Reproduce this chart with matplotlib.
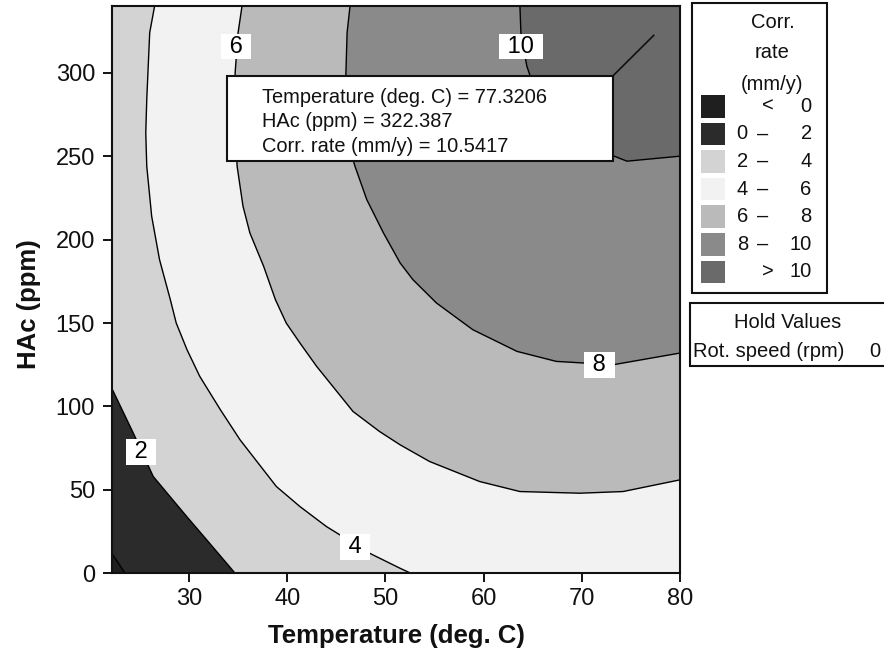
import matplotlib
matplotlib.use("Agg")
import matplotlib.pyplot as plt
from matplotlib.patches import Rectangle, Polygon

plt.rcParams['font.family'] = ['Liberation Sans', 'DejaVu Sans']

# ---------------- data ----------------
T_MIN, T_MAX = 22.13, 80.0
H_MIN, H_MAX = 0.0, 340.0
x_ticks = [30, 40, 50, 60, 70, 80]
y_ticks = [0, 50, 100, 150, 200, 250, 300]

levels = [0, 2, 4, 6, 8, 10]

c0_T = [22.13, 23.5]
c0_H = [12.0, 0.0]

c2_T = [22.13, 24.33, 26.36, 29.77, 32.1, 34.7]
c2_H = [111.0, 84.0, 58.0, 34.0, 18.0, 0.0]

c4_T = [26.5, 26.0, 25.7, 25.6, 25.7, 26.2, 27.0, 28.1, 28.7, 29.8, 31.1, 33.2,
        35.2, 38.9, 41.3, 44.0, 48.4, 51.5, 52.6]
c4_H = [340.0, 324.0, 284.0, 264.0, 244.0, 214.0, 188.0, 164.0, 150.0, 134.0, 118.0, 98.0,
        80.0, 52.0, 40.0, 28.0, 12.0, 3.0, 0.0]

c6_T = [35.4, 35.0, 34.7, 34.7, 34.9, 35.5, 36.2, 37.6, 38.8, 39.9, 41.3, 43.0,
        46.7, 49.4, 51.5, 54.5, 59.6, 63.7, 69.8, 74.2, 80.0]
c6_H = [340.0, 324.0, 300.0, 274.0, 244.0, 220.0, 204.0, 184.0, 164.0, 150.0, 138.0, 124.0,
        97.0, 85.0, 77.0, 67.0, 55.0, 49.0, 48.0, 49.0, 56.0]

c8_T = [46.4, 46.1, 45.9, 46.1, 46.9, 48.1, 49.8, 51.5, 52.8, 55.2, 58.9, 63.4,
        67.4, 73.2, 80.0]
c8_H = [340.0, 324.0, 284.0, 260.0, 244.0, 224.0, 204.0, 186.0, 176.0, 162.0, 146.0, 133.0,
        127.0, 125.0, 132.0]

c10_T = [63.7, 63.8, 64.4, 65.5, 67.5, 70.5, 73.3, 74.6, 80.0]
c10_H = [340.0, 324.0, 304.0, 285.0, 268.0, 256.0, 250.0, 247.0, 250.0]

contours = [(c0_T, c0_H), (c2_T, c2_H), (c4_T, c4_H),
            (c6_T, c6_H), (c8_T, c8_H), (c10_T, c10_H)]

band_labels = ["<   0", "0  \u2013   2", "2  \u2013   4", "4  \u2013   6",
               "6  \u2013   8", "8  \u2013  10", ">  10"]
band_colors = ["#1f1f1f", "#2b2b2b", "#d3d3d3", "#f2f2f2", "#bababa", "#8a8a8a", "#6a6a6a"]

# contour-line labels (level, T, HAc)
clabel_text = ["2", "4", "6", "8", "10"]
clabel_T = [25.1, 46.9, 34.8, 71.8, 63.8]
clabel_H = [72.8, 15.8, 315.7, 125.0, 315.7]

# crosshair point
pt_T, pt_H, pt_rate = 77.3206, 322.387, 10.5417

hold_name, hold_value = "Rot. speed (rpm)", "0"

# ---------------- figure ----------------
W, H = 884, 654
fig = plt.figure(figsize=(W / 100, H / 100), dpi=100)
ax_l, ax_r, ax_t, ax_b = 111.7, 680.0, 6.0, 573.3
ax = fig.add_axes([ax_l / W, 1 - ax_b / H, (ax_r - ax_l) / W, (ax_b - ax_t) / H])
ax.set_xlim(T_MIN, T_MAX)
ax.set_ylim(H_MIN, H_MAX)
ax.set_facecolor(band_colors[0])

eps = 0.5
for i, (cT, cH) in enumerate(contours):
    pts = list(zip(cT, cH))
    endT, endH = pts[-1]
    stT, stH = pts[0]
    if endH <= H_MIN + eps:
        pts.append((T_MAX, H_MIN))
    pts.append((T_MAX, H_MAX))
    if stT <= T_MIN + 0.05:
        pts.append((T_MIN, H_MAX))
    ax.add_patch(Polygon(pts, closed=True, facecolor=band_colors[i + 1],
                         edgecolor='none', zorder=1))
for cT, cH in contours:
    ax.plot(cT, cH, color='black', lw=1.0, zorder=2, solid_joinstyle='round')

for s, tx, hy in zip(clabel_text, clabel_T, clabel_H):
    ax.text(tx, hy, " " + s + " ", fontsize=17, ha='center', va='center', zorder=4,
            bbox=dict(boxstyle='square,pad=0.08', facecolor='white', edgecolor='none'))

# crosshair info box
box_T0, box_T1, box_H0, box_H1 = 33.84, 73.2, 246.9, 298.3
ax.add_patch(Rectangle((box_T0, box_H0), box_T1 - box_T0, box_H1 - box_H0,
                       facecolor='white', edgecolor='#111111', lw=1.5, zorder=5))
ax.plot([box_T1, pt_T], [box_H1, pt_H], color='#111111', lw=1.2, zorder=5)
info = [f"Temperature (deg. C) = {pt_T:.4f}",
        f"HAc (ppm) = {pt_H:.3f}",
        f"Corr. rate (mm/y) = {pt_rate:.4f}"]
for line, hy in zip(info, [285.2, 270.6, 255.6]):
    ax.text(37.4, hy, line, fontsize=14.4, ha='left', va='center', zorder=6, color='#111111')

ax.set_xticks(x_ticks)
ax.set_yticks(y_ticks)
ax.tick_params(direction='out', length=6.5, width=1.4, labelsize=17, colors='#111111')
ax.tick_params(axis='x', pad=4)
ax.tick_params(axis='y', pad=5.5)
for sp in ax.spines.values():
    sp.set_linewidth(1.5)
    sp.set_color('#111111')
    sp.set_zorder(7)

def fx(px):
    return px / W

def fy(py):
    return 1 - py / H

fig.text(fx(396), fy(636), "Temperature (deg. C)", fontsize=18.5, fontweight='bold',
         ha='center', va='center', color='#111111')
fig.text(fx(29), fy(304), "HAc (ppm)", fontsize=18.5, fontweight='bold', rotation=90,
         ha='center', va='center', color='#111111')

# legend box
fig.patches.append(Rectangle((fx(691.7), fy(292.7)), (826.7 - 691.7) / W, (292.7 - 3.3) / H,
                             transform=fig.transFigure, facecolor='white',
                             edgecolor='#111111', lw=1.5))
for txt, py in zip(["Corr.", "rate", "(mm/y)"], [22.5, 53.0, 84.0]):
    fig.text(fx(772.5), fy(py), txt, fontsize=14.5, ha='center', va='center', color='#111111')
sw_top, sw_pitch, sw_h = 95.0, 27.6, 22.5
for k, (lab, col) in enumerate(zip(band_labels, band_colors)):
    top = sw_top + k * sw_pitch
    fig.patches.append(Rectangle((fx(700.7), fy(top + sw_h)), (725 - 700.7) / W, sw_h / H,
                                 transform=fig.transFigure, facecolor=col, edgecolor='none'))
    cy = fy(top + sw_h / 2)
    parts = lab.split()
    if len(parts) == 2:
        fig.text(fx(767.5), cy, parts[0], fontsize=14.5, ha='center', va='center', color='#111111')
        fig.text(fx(811.7), cy, parts[1], fontsize=14.5, ha='right', va='center', color='#111111')
    else:
        fig.text(fx(736.7), cy, parts[0], fontsize=14.5, ha='left', va='center', color='#111111')
        fig.text(fx(763), cy, parts[1], fontsize=14.5, ha='center', va='center', color='#111111')
        fig.text(fx(811.7), cy, parts[2], fontsize=14.5, ha='right', va='center', color='#111111')

# hold values box
fig.patches.append(Rectangle((fx(690), fy(366)), (900 - 690) / W, (366 - 303.3) / H,
                             transform=fig.transFigure, facecolor='white',
                             edgecolor='#111111', lw=1.5, clip_on=False))
fig.text(fx(788), fy(323), "Hold Values", fontsize=14.5, ha='center', va='center', color='#111111')
fig.text(fx(693.3), fy(351.7), hold_name, fontsize=14.5, ha='left', va='center', color='#111111')
fig.text(fx(880), fy(351.7), hold_value, fontsize=14.5, ha='right', va='center', color='#111111')

fig.savefig("out.png", dpi=100)
